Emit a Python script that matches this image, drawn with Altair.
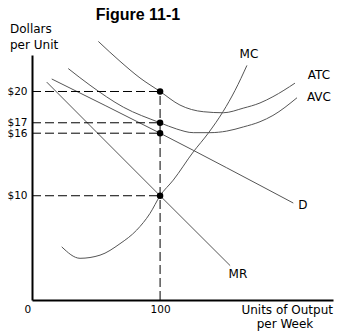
import altair as alt
import pandas as pd

# ---- data ----
mc_q = [23.2, 37.5, 53.1, 68.7, 81.7, 92.1, 100, 110.3, 125.9, 137.6, 149.3, 158.5, 167.8]
mc_p = [5.1, 4.0, 4.3, 5.4, 6.7, 8.3, 10.0, 11.5, 14.2, 16.0, 18.1, 20.1, 22.5]

atc_q = [51.8, 68.7, 84.3, 100, 115.5, 133.7, 149.3, 164.9, 178, 188.1, 205.3]
atc_p = [24.8, 22.9, 21.3, 20.0, 18.7, 18.06, 17.96, 18.4, 18.9, 19.5, 20.8]

avc_q = [28.3, 45.3, 71.3, 100, 113, 125.9, 139, 152, 165, 178, 188.1, 206.9]
avc_p = [22.2, 20.6, 18.5, 17.0, 16.4, 16.05, 16.05, 16.2, 16.6, 17.1, 17.7, 19.4]

d_q = [15.4, 100, 204]
d_p = [21.2, 16.0, 9.3]

mr_q = [11.5, 100, 154.7]
mr_p = [20.9, 10.0, 3.3]

price_ticks = [20, 17, 16, 10]
qty_ticks = [0, 100]
q_star = 100

curve_names = ["MC", "ATC", "AVC", "D", "MR"]
label_q = [169.4, 224.0, 224.0, 211.5, 160.8]
label_p = [23.6, 21.6, 19.5, 9.1, 2.5]

# ---- tables ----
rows = []
for name, qs, ps in [("MC", mc_q, mc_p), ("ATC", atc_q, atc_p), ("AVC", avc_q, avc_p),
                     ("D", d_q, d_p), ("MR", mr_q, mr_p)]:
    for i, (q, p) in enumerate(zip(qs, ps)):
        rows.append({"curve": name, "q": q, "p": p, "order": i})
curves = pd.DataFrame(rows)
dots = pd.DataFrame({"q": [q_star] * len(price_ticks), "p": price_ticks})
hdash = pd.DataFrame({"q0": [0] * len(price_ticks), "q1": [q_star] * len(price_ticks), "p": price_ticks})
vdash = pd.DataFrame({"q": [q_star], "p0": [0], "p1": [max(price_ticks)]})
labels = pd.DataFrame({"curve": curve_names, "q": label_q, "p": label_p})

xs = alt.Scale(domain=[0, 235], nice=False, zero=False)
ys = alt.Scale(domain=[0, 23.5], nice=False, zero=False)
FONT = "DejaVu Sans"

x_axis = alt.Axis(values=qty_ticks, title=None, grid=False, ticks=False,
                  domainColor="black", domainWidth=2, labelColor="black",
                  labelFont=FONT, labelFontSize=10.5, labelPadding=4,
                  labelOffset={"condition": {"test": "datum.value === 0", "value": -8}, "value": 0})
y_axis = alt.Axis(values=price_ticks, title=None, grid=False, ticks=False,
                  domainColor="black", domainWidth=2, labelColor="black",
                  labelFont=FONT, labelFontSize=10.5, labelPadding=5, labelOverlap=False,
                  labelExpr="'$' + datum.value")

lines = alt.Chart(curves).mark_line(color="#555", strokeWidth=1, interpolate="monotone").encode(
    x=alt.X("q:Q", scale=xs, axis=x_axis),
    y=alt.Y("p:Q", scale=ys, axis=y_axis),
    detail="curve:N",
    order="order:Q",
)

hrules = alt.Chart(hdash).mark_rule(color="black", strokeWidth=1, strokeDash=[9, 4]).encode(
    x=alt.X("q0:Q", scale=xs), x2="q1:Q", y=alt.Y("p:Q", scale=ys)
)
vrule = alt.Chart(vdash).mark_rule(color="black", strokeWidth=1, strokeDash=[9, 4]).encode(
    x=alt.X("q:Q", scale=xs), y=alt.Y("p0:Q", scale=ys), y2="p1:Q"
)
points = alt.Chart(dots).mark_circle(color="black", size=42, opacity=1).encode(
    x=alt.X("q:Q", scale=xs), y=alt.Y("p:Q", scale=ys)
)
curve_text = alt.Chart(labels).mark_text(font=FONT, fontSize=12, color="black",
                                         align="center", baseline="middle").encode(
    x=alt.X("q:Q", scale=xs), y=alt.Y("p:Q", scale=ys), text="curve:N"
)

def txt(s, x, y, align="left", size=12, weight="normal", baseline="alphabetic"):
    return alt.Chart(pd.DataFrame({"t": [s]})).mark_text(
        font=FONT if weight == "normal" else "Liberation Sans", fontSize=size, fontWeight=weight,
        color="black", align=align, baseline=baseline
    ).encode(x=alt.value(x), y=alt.value(y), text="t:N")

title = txt("Figure 11-1", 106, -35, align="center", size=16, weight="bold")
yt1 = txt("Dollars", -22, -22)
yt2 = txt("per Unit", -22, -6)
xt1 = txt("Units of Output", 301, 259, align="right")
xt2 = txt("per Week", 253, 273, align="center")

chart = alt.layer(lines, hrules, vrule, points, curve_text, title, yt1, yt2, xt1, xt2).properties(
    width=301, height=245,
    autosize=alt.AutoSizeParams(type="none"),
    padding={"left": 32, "top": 55, "right": 5, "bottom": 34},
    background="white",
).configure_view(stroke=None)

chart.save("out.html", embed_options={"renderer": "svg", "actions": False})
